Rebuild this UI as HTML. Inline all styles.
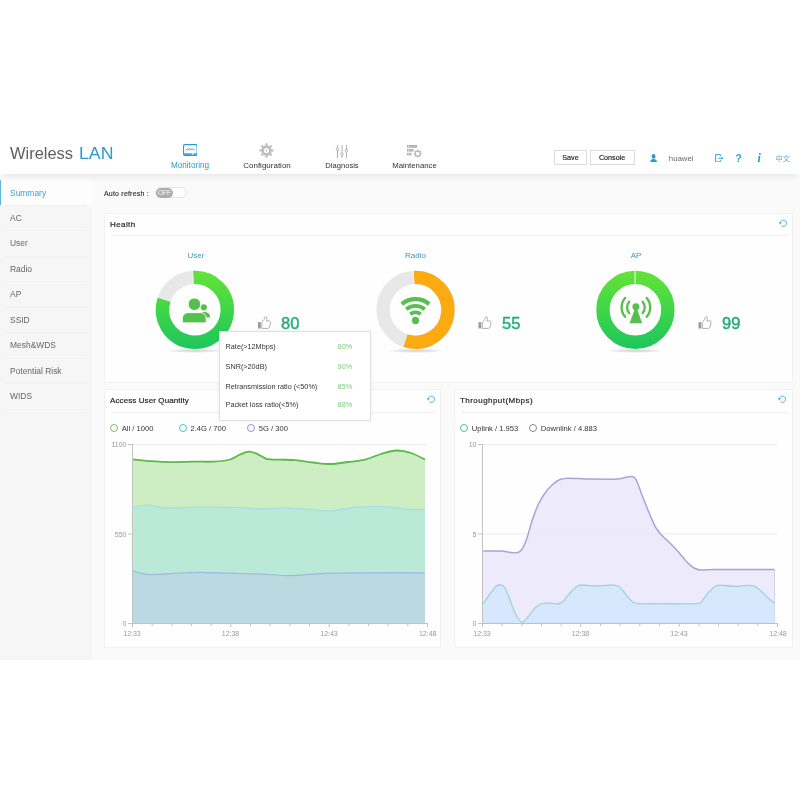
<!DOCTYPE html>
<html>
<head>
<meta charset="utf-8">
<title>Wireless LAN</title>
<style>
*{box-sizing:border-box;margin:0;padding:0}
html,body{width:800px;height:800px;overflow:hidden;background:#fff;font-family:"Liberation Sans","Noto Sans CJK SC",sans-serif;color:#444}
.abs{position:absolute}
#header{position:absolute;left:0;top:130px;width:800px;height:44px;background:#fff;box-shadow:0 5px 7px -3px rgba(0,0,0,.09);z-index:5}
#logo{position:absolute;left:10px;top:15.100px;font-size:15.600px;color:#606060;white-space:nowrap}
#logo span{display:inline-block;transform:scaleX(1.055);transform-origin:0 0}
#logo b{position:absolute;left:69.100px;top:0;font-weight:normal;color:#2a9bcf;display:inline-block;transform:scaleX(1.136);transform-origin:0 0}
.nav{position:absolute;top:0;width:80px;height:44px;text-align:center;font-size:8.2px;color:#333;line-height:10px;padding-top:30.800px}
.nav svg{position:absolute;left:50%}
.nav.on{color:#2a9bcf}
.btn{position:absolute;top:20.400px;height:14.500px;border:1px solid #dcdcdc;background:#fff;font-size:7.200px;color:#222;text-align:center;line-height:13px;-webkit-text-stroke:.15px #222}
#body{position:absolute;left:0;top:174px;width:800px;height:486px;background:#fafafa}
#side{position:absolute;left:0;top:6px;width:92px;height:480px;background:#f6f6f6}
#side div{position:relative;height:25.450px;line-height:25px;padding-left:10px;font-size:8.450px;color:#666}
#side div:after{content:"";position:absolute;left:5px;right:5px;bottom:0;height:1px;background:#f1f1f1}
#side div.on{background:#fdfdfd;color:#3aa1d1;height:26px;line-height:26px}
#side div.on:before{content:"";position:absolute;left:0;top:0;width:1px;height:25px;background:#5fb6d8}
.panel{position:absolute;background:#fefefe;border:1px solid #f1f1f1;border-radius:2px}
.ptitle{position:absolute;left:5px;top:6px;font-size:8px;color:#222;letter-spacing:.1px;-webkit-text-stroke:.18px #222}
.pline{position:absolute;left:7px;right:3px;top:22px;height:1px;background:#f0f0f0}
.dlabel{position:absolute;font-size:8px;color:#3a98c0;width:60px;text-align:center}
.score{position:absolute;font-size:15.600px;color:#25ae7b;-webkit-text-stroke:.45px #25ae7b;transform:translateY(.45px) scaleX(1.06);transform-origin:0 0}
#tip{position:absolute;left:218.600px;top:330.700px;width:152px;height:90.300px;background:#fff;border:1px solid #e0e0e0;box-shadow:0 0 3px rgba(0,0,0,.08);z-index:4;font-size:7.25px;color:#333}
#tip div{position:absolute;left:6px;white-space:nowrap}
#tip span{position:absolute;left:118px;color:#7dc87a}
.leg{position:absolute;font-size:7.600px;color:#333;white-space:nowrap}
.leg i{display:inline-block;width:8px;height:8px;border-radius:50%;border:1.3px solid #6b4;vertical-align:-1.300px;margin-right:3.800px}
svg text{font-family:"Liberation Sans",sans-serif}
</style>
</head>
<body>
<div id="header">
  <div id="logo"><span>Wireless</span> <b>LAN</b></div>
  <div class="nav on" style="left:150px">
    <svg width="14.600" height="12" viewBox="0 0 16 12" preserveAspectRatio="none" style="margin-left:-7.300px;top:14.200px"><rect x=".6" y=".6" width="14.8" height="10.8" rx="1.2" fill="none" stroke="#2a9bcf" stroke-width="1.2"/><path d="M1 9.300h14v1.500h-14z" fill="#2a9bcf"/><path d="M3 6.200l1.600-1 1.200 1 1.400-1.800 1.300 1.600 1.500-1.400 1.300 1.400 1.500-.8" fill="none" stroke="#2a9bcf" stroke-width=".9"/><rect x="9.500" y="9.300" width="2.400" height="1.200" fill="#fff"/></svg>Monitoring</div>
  <div class="nav" style="left:227px;font-size:8px">
    <svg width="15" height="15" viewBox="0 0 15 15" style="margin-left:-7.800px;top:12.900px"><circle cx="7.500" cy="7.500" r="3.900" fill="none" stroke="#bdbdbd" stroke-width="2.700"/><circle cx="7.500" cy="7.500" r=".9" fill="#bdbdbd"/><g stroke="#bdbdbd" stroke-width="2.100"><path d="M7.500 .3v2.400M7.500 12.300v2.400M.3 7.500h2.400M12.300 7.500h2.400M2.400 2.400l1.700 1.700M10.900 10.900l1.700 1.700M2.400 12.600l1.700-1.700M10.900 4.100l1.700-1.700"/></g></svg>Configuration</div>
  <div class="nav" style="left:302px;font-size:7.600px">
    <svg width="14" height="13" viewBox="0 0 14 13" style="margin-left:-7.200px;top:14.700px"><g stroke="#b0b0b0" stroke-width="1" fill="none"><path d="M2.500 0v13M7 0v13M11.500 0v13"/></g><g fill="#fff" stroke="#b0b0b0" stroke-width=".9"><rect x="1.400" y="3" width="2.200" height="2.600" rx=".5"/><rect x="5.900" y="8" width="2.200" height="2.600" rx=".5"/><rect x="10.400" y="4.500" width="2.200" height="2.600" rx=".5"/></g></svg>Diagnosis</div>
  <div class="nav" style="left:374.500px;font-size:7.800px">
    <svg width="15" height="13" viewBox="0 0 15 13" style="margin-left:-7.200px;top:14.700px"><g fill="#b3b3b3"><rect x="0" y="0" width="10" height="2.800"/><rect x="0" y="4" width="6.500" height="2.600"/><rect x="0" y="7.800" width="4.500" height="2.600"/></g><g fill="#fff"><rect x="1" y="1" width="1.200" height=".8"/><rect x="1" y="4.900" width="1.200" height=".8"/><rect x="1" y="8.700" width="1.200" height=".8"/></g><circle cx="10.700" cy="8.600" r="2.500" fill="none" stroke="#b3b3b3" stroke-width="1.200"/><g stroke="#b3b3b3" stroke-width="1.300"><path d="M10.700 4.500v1.300M10.700 11.400v1.300M6.600 8.600h1.300M13.500 8.600h1.300M7.800 5.700l.9.900M12.700 10.600l.9.900M7.800 11.500l.9-.9M12.700 6.600l.9-.9"/></g></svg>Maintenance</div>
  <div class="btn" style="left:554px;width:33px">Save</div>
  <div class="btn" style="left:589.600px;width:45px">Console</div>
  <svg class="abs" style="left:650.200px;top:23.600px" width="7.200" height="8.400" viewBox="0 0 9 10.500" preserveAspectRatio="none"><ellipse cx="4.500" cy="3" rx="2.400" ry="2.900" fill="#2a9bcf"/><path d="M.3 10.500c0-3.300 1.600-4.300 4.200-4.300s4.200 1 4.200 4.300z" fill="#2a9bcf"/></svg>
  <div class="abs" style="left:668.800px;top:24.200px;font-size:7.800px;color:#6a6a6a">huawei</div>
  <svg class="abs" style="left:714.500px;top:23.500px" width="9.500" height="8.500" viewBox="0 0 9.500 8.500"><path d="M5.400 2.300V.6H.6v7.300h4.800V6.200" fill="none" stroke="#3aa3d4" stroke-width="1"/><path d="M3.300 4.250h3.500" stroke="#3aa3d4" stroke-width="1"/><path d="M6.400 2.700l2.200 1.550-2.200 1.550z" fill="#3aa3d4"/></svg>
  <div class="abs" style="left:735.600px;top:22.500px;font-size:10px;font-weight:bold;color:#2a9bcf">?</div>
  <div class="abs" style="left:757.500px;top:20.500px;font-size:12px;font-weight:bold;font-style:italic;color:#2a9bcf;font-family:'Liberation Serif',serif">i</div>
  <div class="abs" style="left:775.500px;top:23.300px;font-size:7.200px;color:#58afdb">中文</div>
</div>

<div id="body">
  <div id="side">
    <div class="on">Summary</div><div>AC</div><div>User</div><div>Radio</div><div>AP</div><div>SSID</div><div>Mesh&amp;WDS</div><div>Potential Risk</div><div>WIDS</div>
  </div>
  <div class="abs" style="left:104px;top:15.700px;font-size:7px;color:#333;letter-spacing:.2px;-webkit-text-stroke:.15px #333">Auto refresh :</div>
  <div class="abs" style="left:155px;top:13.300px;width:32px;height:11px;border-radius:6px;background:#fff;border:1px solid #e3e3e3"></div>
  <div class="abs" style="left:155.600px;top:14.400px;width:17.800px;height:9.300px;border-radius:5px;background:#adadad;color:#fff;font-size:6.500px;line-height:9.500px;text-align:center">OFF</div>
</div>

<!-- Health panel -->
<div class="panel" style="left:104px;top:213px;width:689px;height:170px">
  <div class="ptitle" style="letter-spacing:.400px">Health</div><div class="pline" style="top:21.300px"></div>
  <svg class="abs" style="left:674px;top:5px" width="8.500" height="8.500" viewBox="0 0 9 9"><path d="M1.400 4.300A3.300 3.300 0 1 1 2.700 7.100" fill="none" stroke="#4fb0dc" stroke-width="1"/><path d="M-.1 3.500h3l-1.500 2.500z" fill="#4fb0dc"/></svg>
</div>
<div class="dlabel" style="left:166px;top:251px">User</div>
<div class="dlabel" style="left:385.500px;top:251px">Radio</div>
<div class="dlabel" style="left:606px;top:251px">AP</div>

<svg class="abs" style="left:104px;top:213px" width="689" height="169" viewBox="104 213 689 169">
  <defs>
    <linearGradient id="gg" gradientUnits="userSpaceOnUse" x1="0" y1="270" x2="0" y2="350"><stop offset="0" stop-color="#66e238"/><stop offset=".5" stop-color="#3fd648"/><stop offset="1" stop-color="#1cc55e"/></linearGradient>
    <radialGradient id="sh"><stop offset="0" stop-color="#000" stop-opacity=".17"/><stop offset=".6" stop-color="#000" stop-opacity=".09"/><stop offset="1" stop-color="#000" stop-opacity="0"/></radialGradient>
  </defs>
  <ellipse cx="194.9" cy="350.800" rx="29" ry="2.200" fill="url(#sh)"/>
  <ellipse cx="415.6" cy="350.800" rx="29" ry="2.200" fill="url(#sh)"/>
  <ellipse cx="635.4" cy="350.800" rx="29" ry="2.200" fill="url(#sh)"/>
  <!-- User donut 80% -->
  <circle cx="194.9" cy="309.8" r="32.450" fill="none" stroke="#e8e8e8" stroke-width="13.400"/>
  <path d="M193.31 277.39A32.450 32.450 0 1 1 163.99 299.76" fill="none" stroke="url(#gg)" stroke-width="13.400"/>
  <path d="M193.30 284.30L192.43 270.53" stroke="#f6f6f6" stroke-width=".9"/>
  <g fill="#55bf4f"><circle cx="203.800" cy="307.300" r="3.100"/><path d="M202 312.100h3a5.200 5.200 0 0 1 5.200 5.200v.2h-8z"/><circle cx="194.400" cy="304.200" r="6.300" stroke="#fff" stroke-width="1"/><path d="M182.300 322.100v-3.800a5.700 5.700 0 0 1 5.700-5.700h12.500a5.700 5.700 0 0 1 5.700 5.700v3.800a.8 .8 0 0 1-.8 .8h-22.300a.8 .8 0 0 1-.8-.8z" stroke="#fff" stroke-width="1"/></g>
  <!-- Radio donut 55% -->
  <circle cx="415.6" cy="309.8" r="32.450" fill="none" stroke="#e8e8e8" stroke-width="13.400"/>
  <path d="M414.01 277.39A32.450 32.450 0 1 1 405.56 340.71" fill="none" stroke="#fbaa12" stroke-width="13.400"/>
  <path d="M414.00 284.30L413.13 270.53" stroke="#f6f6f6" stroke-width=".9"/>
  <g fill="none" stroke="#55bf4f"><path d="M401.81 304.08A21.3 21.3 0 0 1 429.19 304.08" stroke-width="4.200"/><path d="M406.18 309.29A14.5 14.5 0 0 1 424.82 309.29" stroke-width="3.800"/><path d="M410.36 314.27A8 8 0 0 1 420.64 314.27" stroke-width="3.800"/></g><circle cx="415.5" cy="320.400" r="3.600" fill="#55bf4f"/>
  <!-- AP donut 99% -->
  <circle cx="635.4" cy="309.8" r="32.450" fill="none" stroke="url(#gg)" stroke-width="13.400"/>
  <path d="M635.1 270v13.500" stroke="#d9f7cf" stroke-width="1.300"/>
  <g fill="none" stroke="#55bf4f" stroke-width="2.400" stroke-linecap="round"><path d="M629.16 301.74A8.8 8.8 0 0 0 629.16 313.06"/><path d="M625.11 298.02A14.3 14.3 0 0 0 625.11 316.78"/><path d="M642.64 301.74A8.8 8.8 0 0 1 642.64 313.06"/><path d="M646.69 298.02A14.3 14.3 0 0 1 646.69 316.78"/></g>
  <circle cx="635.9" cy="306.800" r="3.500" fill="#55bf4f"/><path d="M635.9 306l-6.300 17.300h12.600z" fill="#55bf4f"/>
  <!-- thumbs -->
  <g id="th" transform="translate(258 316) scale(.96)"><rect x="0" y="6.400" width="2.900" height="6.600" fill="#9a9a9a"/><path d="M4 6.600L6.600 3.300C7.100 2 7 .8 8 .6 9.300 .5 9.600 2.500 8.800 5.200H11.900C13 5.200 13.400 6.100 13.100 7L11.900 11.600C11.700 12.500 11 12.900 10.200 12.900H4Z" fill="#fff" stroke="#adadad" stroke-width="1" stroke-linejoin="round"/></g>
  <use href="#th" x="220.500"/><use href="#th" x="440.500"/>
</svg>
<div class="score" style="left:280.700px;top:314.900px">80</div>
<div class="score" style="left:501.800px;top:314.900px">55</div>
<div class="score" style="left:721.500px;top:314.900px">99</div>

<div id="tip">
  <div style="top:10.700px">Rate(&gt;12Mbps)</div>
  <div style="top:29.900px">SNR(&gt;20dB)</div>
  <div style="top:50px">Retransmission ratio (&lt;50%)</div>
  <div style="top:68.100px">Packet loss ratio(&lt;5%)</div>
  <span style="top:10.700px">80%</span><span style="top:29.900px">90%</span><span style="top:50px">85%</span><span style="top:68.100px">88%</span>
</div>

<!-- Access User Quantity -->
<div class="panel" style="left:104px;top:389px;width:337px;height:259px">
  <div class="ptitle">Access User Quantity</div><div class="pline"></div>
  <svg class="abs" style="left:322px;top:5px" width="8.500" height="8.500" viewBox="0 0 9 9"><path d="M1.400 4.300A3.300 3.300 0 1 1 2.700 7.100" fill="none" stroke="#4fb0dc" stroke-width="1"/><path d="M-.1 3.500h3l-1.500 2.500z" fill="#4fb0dc"/></svg>
</div>
<div class="leg" style="left:110px;top:423.600px"><i style="border-color:#7dbb5a"></i>All / 1000</div>
<div class="leg" style="left:178.700px;top:423.600px"><i style="border-color:#4cc5bd"></i>2.4G / 700</div>
<div class="leg" style="left:247px;top:423.600px"><i style="border-color:#8f8fd0"></i>5G / 300</div>

<svg class="abs" style="left:104px;top:436px" width="338" height="210" viewBox="104 436 338 210">
  <g stroke="#ebebeb" stroke-width="1"><path d="M132 444.500h295M132 534h295"/></g>
  <path d="M132.500 444v179.500M132 623.500h295.500" stroke="#c2c2c2" stroke-width="1" fill="none"/>
  <g stroke="#c2c2c2" stroke-width="1"><path d="M128 444.500h4M128 534h4M128 623.500h4"/><path d="M132.500 623v4M152.200 623v3M171.800 623v3M191.500 623v3M211.200 623v3M230.800 623v4M250.500 623v3M270.200 623v3M289.800 623v3M309.500 623v3M329.200 623v4M348.800 623v3M368.500 623v3M388.200 623v3M407.800 623v3M427.500 623v4"/></g>
  <g font-size="7" fill="#999" text-anchor="end"><text x="126.500" y="447">1100</text><text x="126.500" y="536.500">550</text><text x="126.500" y="626">0</text></g>
  <g font-size="7" fill="#999" text-anchor="middle"><text x="132" y="636.300">12:33</text><text x="230.500" y="636.300">12:38</text><text x="329" y="636.300">12:43</text><text x="427.700" y="636.300">12:48</text></g>
<!--c1-->
  <path d="M133.0 459.4C136.2 459.7 145.6 460.7 152.0 461.2C158.4 461.7 164.7 462.1 171.5 462.2C178.3 462.3 185.9 461.7 193.0 461.6C200.1 461.5 207.8 462.0 214.0 461.6C220.2 461.2 225.7 460.7 230.0 459.5C234.3 458.3 236.8 455.8 240.0 454.5C243.2 453.2 246.2 451.7 249.0 451.6C251.8 451.5 254.1 452.6 257.0 453.8C259.9 455.0 262.7 457.8 266.5 458.8C270.3 459.8 275.2 459.4 280.0 459.6C284.8 459.8 290.0 459.7 295.5 460.2C301.0 460.7 307.2 461.9 313.0 462.5C318.8 463.1 324.6 464.1 330.4 464.0C336.2 463.9 342.2 462.7 348.0 462.0C353.8 461.3 359.5 460.9 365.0 459.6C370.5 458.3 375.8 455.5 381.0 454.0C386.2 452.5 391.3 450.7 396.3 450.5C401.3 450.3 406.2 451.5 411.0 453.0C415.8 454.5 422.7 458.5 425.0 459.6V623H133Z" fill="#cbedc1" fill-opacity=".97"/>
  <path d="M133.0 459.4C136.2 459.7 145.6 460.7 152.0 461.2C158.4 461.7 164.7 462.1 171.5 462.2C178.3 462.3 185.9 461.7 193.0 461.6C200.1 461.5 207.8 462.0 214.0 461.6C220.2 461.2 225.7 460.7 230.0 459.5C234.3 458.3 236.8 455.8 240.0 454.5C243.2 453.2 246.2 451.7 249.0 451.6C251.8 451.5 254.1 452.6 257.0 453.8C259.9 455.0 262.7 457.8 266.5 458.8C270.3 459.8 275.2 459.4 280.0 459.6C284.8 459.8 290.0 459.7 295.5 460.2C301.0 460.7 307.2 461.9 313.0 462.5C318.8 463.1 324.6 464.1 330.4 464.0C336.2 463.9 342.2 462.7 348.0 462.0C353.8 461.3 359.5 460.9 365.0 459.6C370.5 458.3 375.8 455.5 381.0 454.0C386.2 452.5 391.3 450.7 396.3 450.5C401.3 450.3 406.2 451.5 411.0 453.0C415.8 454.5 422.7 458.5 425.0 459.6" fill="none" stroke="#5cb947" stroke-width="1.800"/>
  <path d="M133.0 507.2C135.5 506.9 142.3 505.1 148.0 505.2C153.7 505.3 158.3 507.5 167.0 507.8C175.7 508.1 187.8 507.2 200.0 507.2C212.2 507.2 229.7 507.3 240.0 507.6C250.3 507.9 254.5 509.0 262.0 509.0C269.5 509.0 277.0 507.7 285.0 507.8C293.0 507.9 302.5 509.0 310.0 509.5C317.5 510.0 322.2 511.4 330.0 511.0C337.8 510.6 347.3 507.9 357.0 507.2C366.7 506.5 379.0 506.4 388.0 506.8C397.0 507.2 404.8 509.2 411.0 509.6C417.2 510.0 422.7 509.3 425.0 509.2V623H133Z" fill="#b5e8dc" fill-opacity=".8"/>
  <path d="M133.0 507.2C135.5 506.9 142.3 505.1 148.0 505.2C153.7 505.3 158.3 507.5 167.0 507.8C175.7 508.1 187.8 507.2 200.0 507.2C212.2 507.2 229.7 507.3 240.0 507.6C250.3 507.9 254.5 509.0 262.0 509.0C269.5 509.0 277.0 507.7 285.0 507.8C293.0 507.9 302.5 509.0 310.0 509.5C317.5 510.0 322.2 511.4 330.0 511.0C337.8 510.6 347.3 507.9 357.0 507.2C366.7 506.5 379.0 506.4 388.0 506.8C397.0 507.2 404.8 509.2 411.0 509.6C417.2 510.0 422.7 509.3 425.0 509.2" fill="none" stroke="#a3dfe8" stroke-width="1.300"/>
  <path d="M133.0 570.8C134.3 571.2 137.8 572.6 141.0 573.2C144.2 573.8 145.5 574.6 152.0 574.6C158.5 574.6 172.0 573.4 180.0 573.0C188.0 572.6 190.0 572.3 200.0 572.4C210.0 572.5 229.7 573.2 240.0 573.5C250.3 573.8 253.7 573.9 262.0 574.2C270.3 574.6 280.3 575.7 290.0 575.6C299.7 575.5 308.3 574.1 320.0 573.6C331.7 573.1 346.7 573.0 360.0 572.8C373.3 572.6 389.2 572.6 400.0 572.6C410.8 572.6 420.8 572.9 425.0 573.0V623H133Z" fill="#bbd6e3" fill-opacity=".85"/>
  <path d="M133.0 570.8C134.3 571.2 137.8 572.6 141.0 573.2C144.2 573.8 145.5 574.6 152.0 574.6C158.5 574.6 172.0 573.4 180.0 573.0C188.0 572.6 190.0 572.3 200.0 572.4C210.0 572.5 229.7 573.2 240.0 573.5C250.3 573.8 253.7 573.9 262.0 574.2C270.3 574.6 280.3 575.7 290.0 575.6C299.7 575.5 308.3 574.1 320.0 573.6C331.7 573.1 346.7 573.0 360.0 572.8C373.3 572.6 389.2 572.6 400.0 572.6C410.8 572.6 420.8 572.9 425.0 573.0" fill="none" stroke="#9dbae0" stroke-width="1.200"/>
<!--/c1-->
</svg>

<!-- Throughput -->
<div class="panel" style="left:454px;top:389px;width:339px;height:259px">
  <div class="ptitle" style="letter-spacing:.450px">Throughput(Mbps)</div><div class="pline"></div>
  <svg class="abs" style="left:323px;top:5px" width="8.500" height="8.500" viewBox="0 0 9 9"><path d="M1.400 4.300A3.300 3.300 0 1 1 2.700 7.100" fill="none" stroke="#4fb0dc" stroke-width="1"/><path d="M-.1 3.500h3l-1.500 2.500z" fill="#4fb0dc"/></svg>
</div>
<div class="leg" style="left:460px;top:423.600px"><i style="border-color:#3fc1b5"></i>Uplink / 1.953</div>
<div class="leg" style="left:529px;top:423.600px"><i style="border-color:#888"></i>Downlink / 4.883</div>

<svg class="abs" style="left:454px;top:436px" width="339" height="210" viewBox="454 436 339 210">
  <g stroke="#ebebeb" stroke-width="1"><path d="M482 444.500h295M482 534h295"/></g>
  <path d="M482.500 444v179.500M482 623.500h295.500" stroke="#c2c2c2" stroke-width="1" fill="none"/>
  <g stroke="#c2c2c2" stroke-width="1"><path d="M478 444.500h4M478 534h4M478 623.500h4"/><path d="M482.500 623v4M502.200 623v3M521.800 623v3M541.500 623v3M561.200 623v3M580.800 623v4M600.500 623v3M620.200 623v3M639.800 623v3M659.500 623v3M679.200 623v4M698.800 623v3M718.500 623v3M738.200 623v3M757.800 623v3M777.500 623v4"/></g>
  <g font-size="7" fill="#999" text-anchor="end"><text x="476.500" y="447">10</text><text x="476.500" y="536.500">5</text><text x="476.500" y="626">0</text></g>
  <g font-size="7" fill="#999" text-anchor="middle"><text x="482" y="636.300">12:33</text><text x="580.500" y="636.300">12:38</text><text x="679" y="636.300">12:43</text><text x="778" y="636.300">12:48</text></g>
<!--c2-->
  <path d="M483.0 551.0C484.7 551.0 489.8 551.0 493.0 551.0C496.2 551.0 499.3 550.8 502.0 551.0C504.7 551.2 506.7 552.0 509.0 552.3C511.3 552.6 514.0 553.1 516.0 552.8C518.0 552.5 519.3 552.5 521.0 550.5C522.7 548.5 524.2 545.9 526.0 541.0C527.8 536.1 530.0 527.0 532.0 521.0C534.0 515.0 536.0 509.4 538.0 505.0C540.0 500.6 541.7 497.8 544.0 494.5C546.3 491.2 549.3 487.5 552.0 485.0C554.7 482.5 557.3 480.6 560.0 479.5C562.7 478.4 563.0 478.3 568.0 478.2C573.0 478.1 581.7 478.9 590.0 479.0C598.3 479.1 612.0 479.3 618.0 479.0C624.0 478.7 623.7 477.6 626.0 477.2C628.3 476.8 630.3 476.2 632.0 476.6C633.7 477.0 634.3 476.4 636.0 479.5C637.7 482.6 639.7 489.1 642.0 495.0C644.3 500.9 647.7 509.5 650.0 515.0C652.3 520.5 654.0 524.6 656.0 528.0C658.0 531.4 659.7 533.0 662.0 535.5C664.3 538.0 667.3 540.3 670.0 543.0C672.7 545.7 675.3 548.5 678.0 551.5C680.7 554.5 683.3 558.2 686.0 561.0C688.7 563.8 691.5 566.5 694.0 568.0C696.5 569.5 697.5 569.8 701.0 570.0C704.5 570.2 707.7 569.6 715.0 569.5C722.3 569.4 735.1 569.5 745.0 569.5C754.9 569.5 769.6 569.5 774.5 569.5V623H483Z" fill="#ebe8fb" fill-opacity=".9"/>
  <path d="M774.500 569.500V622.500H483" fill="none" stroke="#b9b4e0" stroke-width="1" stroke-opacity=".6"/>
  <path d="M483.0 551.0C484.7 551.0 489.8 551.0 493.0 551.0C496.2 551.0 499.3 550.8 502.0 551.0C504.7 551.2 506.7 552.0 509.0 552.3C511.3 552.6 514.0 553.1 516.0 552.8C518.0 552.5 519.3 552.5 521.0 550.5C522.7 548.5 524.2 545.9 526.0 541.0C527.8 536.1 530.0 527.0 532.0 521.0C534.0 515.0 536.0 509.4 538.0 505.0C540.0 500.6 541.7 497.8 544.0 494.5C546.3 491.2 549.3 487.5 552.0 485.0C554.7 482.5 557.3 480.6 560.0 479.5C562.7 478.4 563.0 478.3 568.0 478.2C573.0 478.1 581.7 478.9 590.0 479.0C598.3 479.1 612.0 479.3 618.0 479.0C624.0 478.7 623.7 477.6 626.0 477.2C628.3 476.8 630.3 476.2 632.0 476.6C633.7 477.0 634.3 476.4 636.0 479.5C637.7 482.6 639.7 489.1 642.0 495.0C644.3 500.9 647.7 509.5 650.0 515.0C652.3 520.5 654.0 524.6 656.0 528.0C658.0 531.4 659.7 533.0 662.0 535.5C664.3 538.0 667.3 540.3 670.0 543.0C672.7 545.7 675.3 548.5 678.0 551.5C680.7 554.5 683.3 558.2 686.0 561.0C688.7 563.8 691.5 566.5 694.0 568.0C696.5 569.5 697.5 569.8 701.0 570.0C704.5 570.2 707.7 569.6 715.0 569.5C722.3 569.4 735.1 569.5 745.0 569.5C754.9 569.5 769.6 569.5 774.5 569.5" fill="none" stroke="#aaa3d6" stroke-width="1.500"/>
  <path d="M483.0 604.0C484.2 602.3 487.8 596.9 490.0 594.0C492.2 591.1 494.3 588.0 496.0 586.5C497.7 585.0 498.8 584.5 500.3 584.8C501.8 585.0 503.4 585.5 505.0 588.0C506.6 590.5 508.2 595.5 510.0 600.0C511.8 604.5 514.0 611.3 516.0 615.0C518.0 618.7 520.0 622.0 522.0 622.3C524.0 622.6 525.8 619.4 528.0 617.0C530.2 614.6 532.7 610.2 535.0 608.0C537.3 605.8 539.3 604.4 542.0 603.6C544.7 602.8 548.3 603.1 551.0 603.2C553.7 603.3 556.0 604.3 558.0 604.0C560.0 603.7 561.0 603.3 563.0 601.5C565.0 599.7 567.7 595.5 570.0 593.0C572.3 590.5 575.0 587.8 577.0 586.5C579.0 585.2 578.8 585.1 582.0 585.0C585.2 584.9 592.5 585.9 596.0 586.0C599.5 586.1 600.5 585.8 603.0 585.6C605.5 585.4 608.5 584.9 611.0 585.0C613.5 585.1 615.8 584.8 618.0 586.0C620.2 587.2 621.8 589.6 624.0 592.0C626.2 594.4 628.7 598.6 631.0 600.5C633.3 602.4 633.2 603.1 638.0 603.6C642.8 604.1 650.2 603.6 660.0 603.6C669.8 603.6 689.8 604.3 697.0 603.6C704.2 602.9 701.0 601.4 703.0 599.5C705.0 597.6 707.0 594.2 709.0 592.0C711.0 589.8 713.2 587.6 715.0 586.5C716.8 585.4 716.5 585.2 720.0 585.2C723.5 585.2 731.7 586.4 736.0 586.4C740.3 586.4 743.2 585.5 746.0 585.4C748.8 585.3 750.5 585.1 752.5 585.6C754.5 586.1 755.8 586.8 758.0 588.5C760.2 590.2 763.2 593.5 766.0 596.0C768.8 598.5 773.1 602.3 774.5 603.6V623H483Z" fill="#d4e8fb" fill-opacity=".85"/>
  <path d="M483.0 604.0C484.2 602.3 487.8 596.9 490.0 594.0C492.2 591.1 494.3 588.0 496.0 586.5C497.7 585.0 498.8 584.5 500.3 584.8C501.8 585.0 503.4 585.5 505.0 588.0C506.6 590.5 508.2 595.5 510.0 600.0C511.8 604.5 514.0 611.3 516.0 615.0C518.0 618.7 520.0 622.0 522.0 622.3C524.0 622.6 525.8 619.4 528.0 617.0C530.2 614.6 532.7 610.2 535.0 608.0C537.3 605.8 539.3 604.4 542.0 603.6C544.7 602.8 548.3 603.1 551.0 603.2C553.7 603.3 556.0 604.3 558.0 604.0C560.0 603.7 561.0 603.3 563.0 601.5C565.0 599.7 567.7 595.5 570.0 593.0C572.3 590.5 575.0 587.8 577.0 586.5C579.0 585.2 578.8 585.1 582.0 585.0C585.2 584.9 592.5 585.9 596.0 586.0C599.5 586.1 600.5 585.8 603.0 585.6C605.5 585.4 608.5 584.9 611.0 585.0C613.5 585.1 615.8 584.8 618.0 586.0C620.2 587.2 621.8 589.6 624.0 592.0C626.2 594.4 628.7 598.6 631.0 600.5C633.3 602.4 633.2 603.1 638.0 603.6C642.8 604.1 650.2 603.6 660.0 603.6C669.8 603.6 689.8 604.3 697.0 603.6C704.2 602.9 701.0 601.4 703.0 599.5C705.0 597.6 707.0 594.2 709.0 592.0C711.0 589.8 713.2 587.6 715.0 586.5C716.8 585.4 716.5 585.2 720.0 585.2C723.5 585.2 731.7 586.4 736.0 586.4C740.3 586.4 743.2 585.5 746.0 585.4C748.8 585.3 750.5 585.1 752.5 585.6C754.5 586.1 755.8 586.8 758.0 588.5C760.2 590.2 763.2 593.5 766.0 596.0C768.8 598.5 773.1 602.3 774.5 603.6" fill="none" stroke="#9fd2de" stroke-width="1.300"/>
<!--/c2-->
</svg>
</body>
</html>
